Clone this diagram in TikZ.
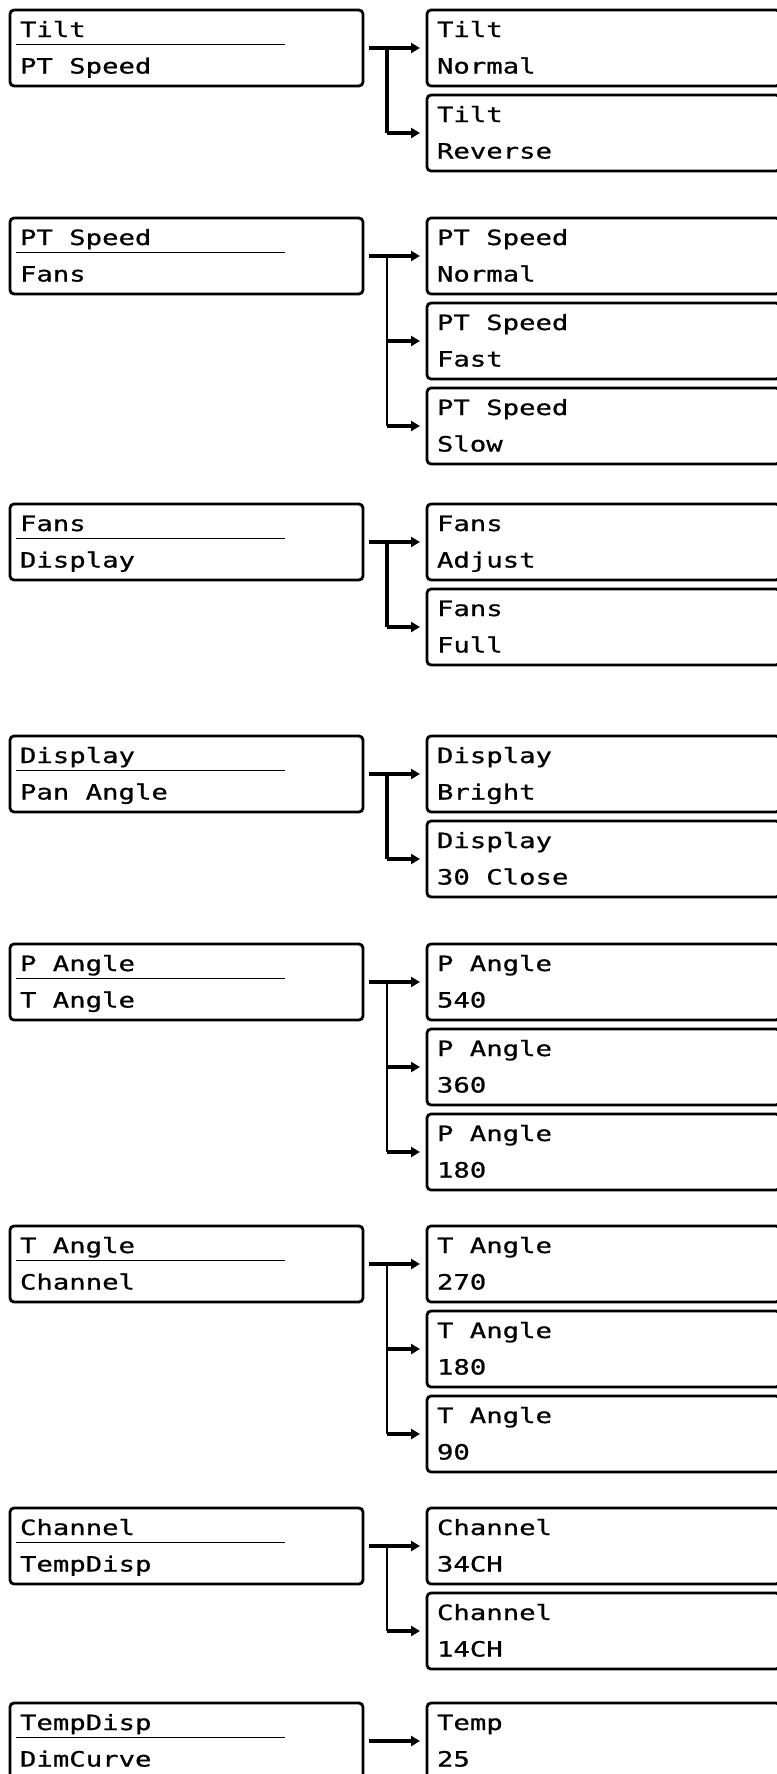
\documentclass[tikz,border=0pt]{standalone}
\usepackage{fontspec}
\newfontfamily\lcdfont[FakeStretch=1.3, FakeBold=0.8]{DejaVu Sans Mono}
\newcommand\lcd{\lcdfont\fontsize{10.5pt}{18.25pt}\selectfont}
\newcommand\lcdgap{\spaceskip=8.2pt plus 0pt minus 0pt\relax\xspaceskip=8.2pt\relax}
\usetikzlibrary{positioning, arrows.meta}

\tikzset{
  menu/.style={draw, rounded corners=2pt, line width=1.4pt,
    minimum width=176.5pt, minimum height=38pt, inner xsep=5pt, inner ysep=0pt, outer sep=0pt,
    text width=166.5pt, align=left, text height=1pt, text depth=12pt, font=\lcd,
    execute at begin node=\lcdgap},
  go/.style={-{Triangle[length=4.5pt, width=5pt]}, line width=1.7pt, shorten <=3pt, shorten >=3.5pt},
  branch/.style={-{Triangle[length=4.5pt, width=5pt]}, line width=1.7pt, shorten >=3.5pt},
  trunk/.style={line width=1.6pt},
  thin trunk/.style={line width=0.9pt},
  sepline/.style={line width=0.6pt},
}

\begin{document}
\begin{tikzpicture}[x=0.5pt, y=0.5pt]
  \path[use as bounding box] (0,0) rectangle (777,-1774);
  \clip (0,0) rectangle (777,-1774);

  % Tilt
  \node[menu, anchor=north west] (tilt) at (10,-10) {Tilt\\PT Speed};
  \node[menu, right=32pt of tilt] (tilt normal) {Tilt\\Normal};
  \node[menu, below=4.5pt of tilt normal] (tilt reverse) {Tilt\\Reverse};
  \draw[sepline] ([shift={(3pt,-17.2pt)}]tilt.north west) -- ++(134.5pt,0);
  \coordinate[right=12pt of tilt.east] (tilt fork);
  \draw[go] (tilt) -- (tilt normal);
  \draw[trunk] (tilt fork) -- (tilt fork |- tilt reverse);
  \draw[branch] (tilt fork |- tilt reverse) -- (tilt reverse);

  % PT Speed
  \node[menu, anchor=north west] (speed) at (10,-218) {PT Speed\\Fans};
  \node[menu, right=32pt of speed] (speed normal) {PT Speed\\Normal};
  \node[menu, below=4.5pt of speed normal] (speed fast) {PT Speed\\Fast};
  \node[menu, below=4.5pt of speed fast] (speed slow) {PT Speed\\Slow};
  \draw[sepline] ([shift={(3pt,-17.2pt)}]speed.north west) -- ++(134.5pt,0);
  \coordinate[right=12pt of speed.east] (speed fork);
  \draw[go] (speed) -- (speed normal);
  \draw[thin trunk] (speed fork) -- (speed fork |- speed slow);
  \draw[branch] (speed fork |- speed fast) -- (speed fast);
  \draw[branch] (speed fork |- speed slow) -- (speed slow);

  % Fans
  \node[menu, anchor=north west] (fans) at (10,-504) {Fans\\Display};
  \node[menu, right=32pt of fans] (fans adjust) {Fans\\Adjust};
  \node[menu, below=4.5pt of fans adjust] (fans full) {Fans\\Full};
  \draw[sepline] ([shift={(3pt,-17.2pt)}]fans.north west) -- ++(134.5pt,0);
  \coordinate[right=12pt of fans.east] (fans fork);
  \draw[go] (fans) -- (fans adjust);
  \draw[trunk] (fans fork) -- (fans fork |- fans full);
  \draw[branch] (fans fork |- fans full) -- (fans full);

  % Display
  \node[menu, anchor=north west] (display) at (10,-736) {Display\\Pan Angle};
  \node[menu, right=32pt of display] (display bright) {Display\\Bright};
  \node[menu, below=4.5pt of display bright] (display close) {Display\\30 Close};
  \draw[sepline] ([shift={(3pt,-17.2pt)}]display.north west) -- ++(134.5pt,0);
  \coordinate[right=12pt of display.east] (display fork);
  \draw[go] (display) -- (display bright);
  \draw[trunk] (display fork) -- (display fork |- display close);
  \draw[branch] (display fork |- display close) -- (display close);

  % P Angle
  \node[menu, anchor=north west] (pangle) at (10,-944) {P Angle\\T Angle};
  \node[menu, right=32pt of pangle] (pangle 540) {P Angle\\540};
  \node[menu, below=4.5pt of pangle 540] (pangle 360) {P Angle\\360};
  \node[menu, below=4.5pt of pangle 360] (pangle 180) {P Angle\\180};
  \draw[sepline] ([shift={(3pt,-17.2pt)}]pangle.north west) -- ++(134.5pt,0);
  \coordinate[right=12pt of pangle.east] (pangle fork);
  \draw[go] (pangle) -- (pangle 540);
  \draw[thin trunk] (pangle fork) -- (pangle fork |- pangle 180);
  \draw[branch] (pangle fork |- pangle 360) -- (pangle 360);
  \draw[branch] (pangle fork |- pangle 180) -- (pangle 180);

  % T Angle
  \node[menu, anchor=north west] (tangle) at (10,-1226) {T Angle\\Channel};
  \node[menu, right=32pt of tangle] (tangle 270) {T Angle\\270};
  \node[menu, below=4.5pt of tangle 270] (tangle 180) {T Angle\\180};
  \node[menu, below=4.5pt of tangle 180] (tangle 90) {T Angle\\90};
  \draw[sepline] ([shift={(3pt,-17.2pt)}]tangle.north west) -- ++(134.5pt,0);
  \coordinate[right=12pt of tangle.east] (tangle fork);
  \draw[go] (tangle) -- (tangle 270);
  \draw[thin trunk] (tangle fork) -- (tangle fork |- tangle 90);
  \draw[branch] (tangle fork |- tangle 180) -- (tangle 180);
  \draw[branch] (tangle fork |- tangle 90) -- (tangle 90);

  % Channel
  \node[menu, anchor=north west] (channel) at (10,-1508) {Channel\\TempDisp};
  \node[menu, right=32pt of channel] (channel 34) {Channel\\34CH};
  \node[menu, below=4.5pt of channel 34] (channel 14) {Channel\\14CH};
  \draw[sepline] ([shift={(3pt,-17.2pt)}]channel.north west) -- ++(134.5pt,0);
  \coordinate[right=12pt of channel.east] (channel fork);
  \draw[go] (channel) -- (channel 34);
  \draw[thin trunk] (channel fork) -- (channel fork |- channel 14);
  \draw[branch] (channel fork |- channel 14) -- (channel 14);

  % TempDisp
  \node[menu, anchor=north west] (tempdisp) at (10,-1703) {TempDisp\\DimCurve};
  \node[menu, right=32pt of tempdisp] (temp 25) {Temp\\25};
  \draw[sepline] ([shift={(3pt,-17.2pt)}]tempdisp.north west) -- ++(134.5pt,0);
  \draw[go] (tempdisp) -- (temp 25);
\end{tikzpicture}
\end{document}
